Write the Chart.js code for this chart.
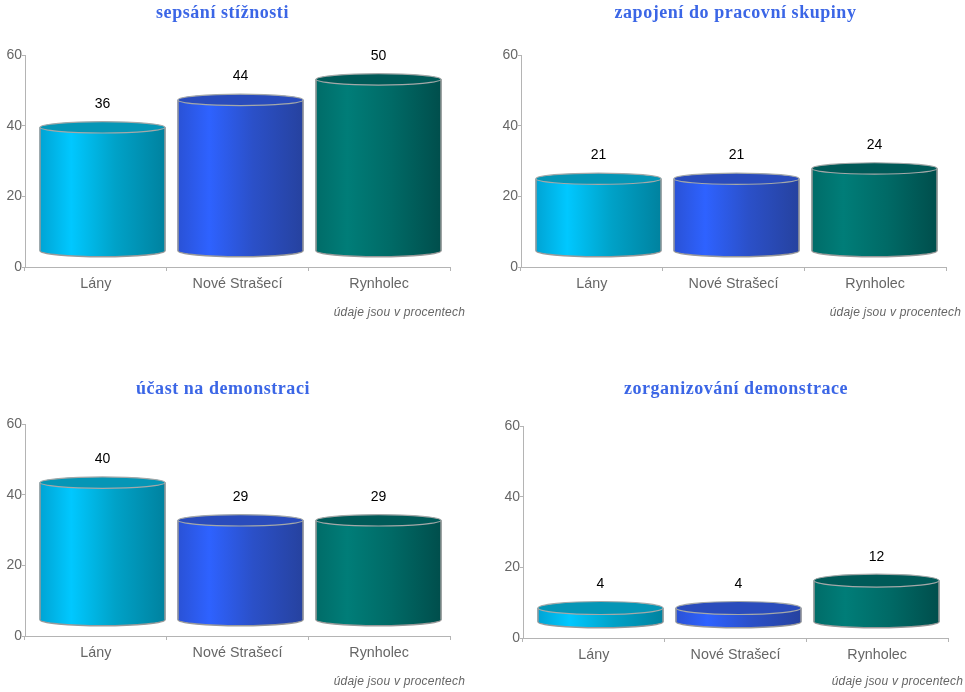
<!DOCTYPE html>
<html lang="cs">
<head>
<meta charset="utf-8">
<title>Grafy</title>
<script src="https://cdn.jsdelivr.net/npm/chart.js@4/dist/chart.umd.min.js"></script>
<style>
  html, body { margin: 0; background: #fff; }
  body { position: relative; width: 965px; height: 692px; overflow: hidden; }
  canvas { position: absolute; }
</style>
</head>
<body>
<script>
const categories = ['Lány', 'Nové Strašecí', 'Rynholec']
const yTicks = [0, 20, 40, 60]
const note = 'údaje jsou v procentech'

const titles = ['sepsání stížnosti', 'zapojení do pracovní skupiny', 'účast na demonstraci', 'zorganizování demonstrace']
const sepsani = [36, 44, 50]
const zapojeni = [21, 21, 24]
const ucast = [40, 29, 29]
const zorganizovani = [4, 4, 12]

// one colour set per bar: [left edge, highlight, middle, right edge, top cap]
const colors = [
  ['#00a4d4', '#00c8ff', '#00a2c8', '#00829f', '#0596b6'],
  ['#2a52d6', '#2e62ff', '#2b50c8', '#26429f', '#2a4cbc'],
  ['#006c68', '#007d78', '#006a66', '#004e4c', '#005a58']
]

// canvas placement and the spots that differ a little from panel to panel
const panels = [
  { values: sepsani, left: 0, top: 0, plotTop: 55, titleX: 222.5, titleY: 13, capRy: 5.7, noteY: 46 },
  { values: zapojeni, left: 496, top: 0, plotTop: 55, titleX: 239.5, titleY: 13, capRy: 5.7, noteY: 46 },
  { values: ucast, left: 0, top: 370, plotTop: 54, titleX: 223, titleY: 19, capRy: 5.7, noteY: 46 },
  { values: zorganizovani, left: 498, top: 370, plotTop: 56, titleX: 238, titleY: 19, capRy: 6.5, noteY: 44 }
]

const axisColor = '#b4b4b4'
const textColor = '#666'
const sansFont = '"Liberation Sans", Arial, sans-serif'

const barGradient = (ctx, x, width, c) => {
  const g = ctx.createLinearGradient(x - width / 2, 0, x + width / 2, 0)
  g.addColorStop(0, c[0])
  g.addColorStop(0.25, c[1])
  g.addColorStop(0.6, c[2])
  g.addColorStop(1, c[3])
  return g
}

// the round caps and side lines of the cylinders, on top of the library's bars
const cylinders = {
  id: 'cylinders',
  afterDatasetsDraw(chart, args, opts) {
    const { ctx } = chart
    chart.getDatasetMeta(0).data.forEach((bar, i) => {
      const rx = bar.width / 2
      const c = colors[i]
      ctx.save()
      // bottom
      ctx.beginPath()
      ctx.ellipse(bar.x, bar.base, rx, 6, 0, 0, Math.PI)
      ctx.fillStyle = barGradient(ctx, bar.x, bar.width, c)
      ctx.fill()
      ctx.strokeStyle = '#999'
      ctx.lineWidth = 1.5
      ctx.stroke()
      // sides
      ctx.beginPath()
      ctx.moveTo(bar.x - rx, bar.y)
      ctx.lineTo(bar.x - rx, bar.base)
      ctx.moveTo(bar.x + rx, bar.y)
      ctx.lineTo(bar.x + rx, bar.base)
      ctx.stroke()
      // top
      ctx.beginPath()
      ctx.ellipse(bar.x, bar.y, rx, opts.capRy, 0, 0, Math.PI * 2)
      ctx.fillStyle = c[4]
      ctx.fill()
      ctx.strokeStyle = '#a4a8a8'
      ctx.lineWidth = 1.2
      ctx.stroke()
      // value
      ctx.fillStyle = '#000'
      ctx.font = '14px ' + sansFont
      ctx.textAlign = 'center'
      ctx.textBaseline = 'middle'
      ctx.fillText(chart.data.datasets[0].data[i].y, bar.x, bar.y - 23.5)
      ctx.restore()
    })
  }
}

// title and the note under the plot do not sit centred on anything the title plugin knows
const captions = {
  id: 'captions',
  afterDraw(chart, args, opts) {
    const { ctx, chartArea } = chart
    ctx.save()
    ctx.textBaseline = 'middle'
    ctx.textAlign = 'center'
    ctx.fillStyle = '#3b66e6'
    ctx.font = 'bold 18px "Liberation Serif", serif'
    ctx.letterSpacing = '0.55px'
    ctx.fillText(opts.title, opts.titleX, opts.titleY)
    ctx.letterSpacing = '0.2px'
    ctx.textAlign = 'right'
    ctx.fillStyle = textColor
    ctx.font = 'italic 12px ' + sansFont
    ctx.fillText(note, chartArea.right + 15, chartArea.bottom + opts.noteY)
    ctx.restore()
  }
}

panels.forEach((p, n) => {
  const canvas = document.createElement('canvas')
  canvas.width = 470
  canvas.height = p.plotTop + 212 + 53
  canvas.style.left = p.left + 'px'
  canvas.style.top = p.top + 'px'
  document.body.appendChild(canvas)

  new Chart(canvas, {
    type: 'bar',
    data: {
      labels: categories,
      datasets: [{
        data: p.values.map((v, i) => ({ x: i, y: v })),
        xAxisID: 'xBars',
        yAxisID: 'yBars',
        barThickness: 125,
        borderWidth: 0,
        backgroundColor: (c) => {
          const { chart, dataIndex } = c
          if (!chart.chartArea || dataIndex === undefined) return colors[0][1]
          return barGradient(chart.ctx, chart.scales.xBars.getPixelForValue(dataIndex), 125, colors[dataIndex])
        }
      }]
    },
    options: {
      responsive: false,
      animation: false,
      layout: { padding: { top: p.plotTop, right: 20, bottom: 23, left: 0 } },
      plugins: {
        legend: { display: false },
        tooltip: { enabled: false },
        cylinders: { capRy: p.capRy },
        captions: { title: titles[n], titleX: p.titleX, titleY: p.titleY, noteY: p.noteY }
      },
      scales: {
        x: {
          type: 'category',
          offset: true,
          grid: { offset: true, drawOnChartArea: false, tickColor: axisColor, tickLength: 4 },
          border: { color: axisColor },
          ticks: { color: textColor, font: { size: 14.3, family: sansFont }, padding: 4, maxRotation: 0 },
          afterFit: (s) => { s.height = 30 }
        },
        y: {
          min: yTicks[0],
          max: yTicks[yTicks.length - 1],
          afterBuildTicks: (s) => { s.ticks = yTicks.map(v => ({ value: v })) },
          grid: { drawOnChartArea: false, tickColor: axisColor, tickLength: 3 },
          border: { color: axisColor },
          ticks: { color: textColor, font: { size: 14, family: sansFont }, padding: 0 },
          afterFit: (s) => { s.width = 25 }
        },
        // the cylinders stand a bit above the axis and a bit off the category ticks
        xBars: { type: 'linear', display: false, offset: false, min: -0.5616, max: 2.518, grid: { offset: false } },
        yBars: { type: 'linear', display: false, position: 'left', min: -4.75, max: 57.1 }
      }
    },
    plugins: [cylinders, captions]
  })
})
</script>
</body>
</html>
